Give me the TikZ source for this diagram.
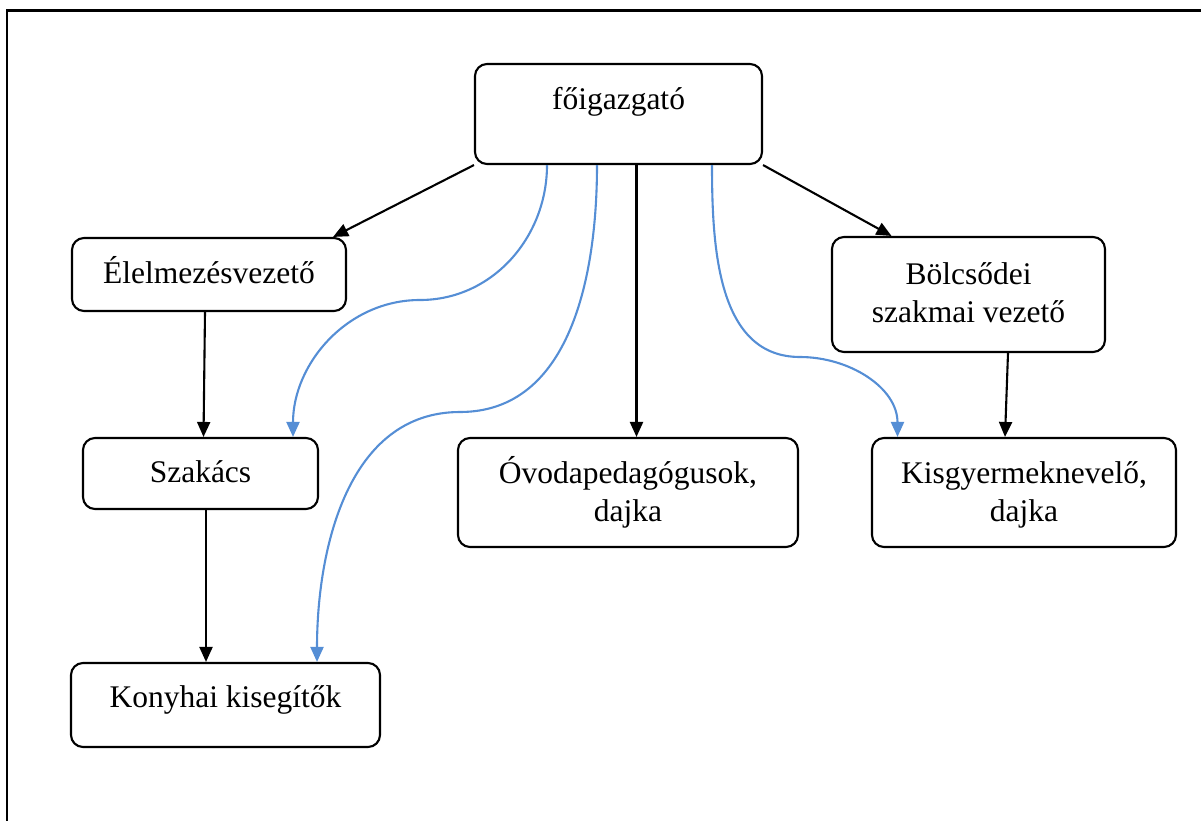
\documentclass[tikz,border=0pt]{standalone}
\usepackage{fontspec}
\setmainfont{Liberation Serif}
\usepackage{tikz}
\usetikzlibrary{arrows.meta}
\definecolor{linkblue}{RGB}{85,142,213}

\begin{document}
\begin{tikzpicture}[x=1pt,y=-1pt,line width=2.1pt,>={Triangle[length=15pt,width=13pt]},
                    box/.style={draw,rounded corners=12pt,align=center,inner sep=0pt,
                                font=\fontsize{31.5}{38}\selectfont},
                    link/.style={->,linkblue}]
  \useasboundingbox (0,0) rectangle (1201,821);
  \draw (7,821) -- (7,10.5) -- (1201,10.5);

  \node[box,minimum width=287pt,text height=46pt,text depth=54pt] (fo) at (618.5,114) {főigazgató};
  \node[box,minimum width=274pt,text height=45pt,text depth=28pt] (elel) at (209,274.5) {Élelmezésvezető};
  \node[box,minimum width=235pt,text height=44pt,text depth=27pt] (szak) at (200.5,473.5) {Szakács};
  \node[box,minimum width=309pt,text height=44pt,text depth=40pt] (kony) at (225.5,705) {Konyhai kisegítők};
  \node[box,minimum width=340pt,text height=83pt,text depth=26pt] (ovo) at (628,492.5) {Óvodapedagógusok,\\dajka};
  \node[box,minimum width=273pt,text height=85pt,text depth=30pt] (bolcs) at (968.5,294.5) {Bölcsődei\\szakmai vezető};
  \node[box,minimum width=304pt,text height=83pt,text depth=26pt] (kisgy) at (1024,492.5) {Kisgyermeknevelő,\\dajka};

  \coordinate (szbend) at (420,300);
  \coordinate (kobend) at (460,412);
  \coordinate (kibend) at (800,357);

  \path[->]
    (fo.south west) edge ([xshift=-14pt]elel.north east)
    (fo.south east) edge ([xshift=-77pt]bolcs.north)
    ([xshift=18pt]fo.south) edge ([xshift=8.5pt]ovo.north)
    ([xshift=-4pt]elel.south) edge ([xshift=3pt]szak.north)
    ([xshift=5.5pt]szak.south) edge ([xshift=-19.5pt]kony.north)
    ([xshift=39.5pt]bolcs.south) edge ([xshift=-19pt]kisgy.north);

  \draw[link] ([xshift=-71.5pt]fo.south) to[out=270,in=0] (szbend)
    to[out=180,in=90] ([xshift=92.5pt]szak.north);
  \draw[link] ([xshift=-21.5pt]fo.south) to[out=270,in=0] (kobend)
    to[out=180,in=90] ([xshift=91.5pt]kony.north);
  \draw[link] ([xshift=93.5pt]fo.south) to[out=270,in=180] (kibend)
    to[out=0,in=90] ([xshift=-126.5pt]kisgy.north);
\end{tikzpicture}
\end{document}
